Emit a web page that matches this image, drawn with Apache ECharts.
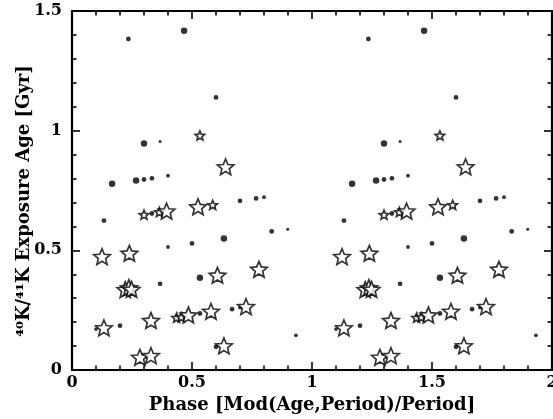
<!DOCTYPE html>
<html>
<head>
<meta charset="utf-8">
<title>Exposure age vs phase</title>
<script src="https://cdn.jsdelivr.net/npm/echarts@6/dist/echarts.min.js"></script>
<style>
  html, body { margin: 0; padding: 0; background: #fff; }
  #chart { width: 553px; height: 419px; }
</style>
</head>
<body>
<div id="chart"></div>
<script>
// Iron meteorites: phase within the period vs 40K/41K exposure age (Gyr).
// Filled circles: one group of samples; open stars: the other group.
const dotPhase = [0.235, 0.467, 0.600, 0.300, 0.367, 0.167, 0.267, 0.300, 0.333, 0.400,
                  0.133, 0.333, 0.400, 0.500, 0.700, 0.767, 0.800, 0.832, 0.899, 0.633,
                  0.367, 0.100, 0.200, 0.533, 0.533, 0.667, 0.700, 0.600, 0.933];
const dotAge   = [1.383, 1.418, 1.139, 0.946, 0.955, 0.778, 0.792, 0.796, 0.801, 0.812,
                  0.624, 0.654, 0.514, 0.529, 0.707, 0.717, 0.722, 0.579, 0.588, 0.549,
                  0.360, 0.171, 0.185, 0.385, 0.236, 0.254, 0.261, 0.097, 0.145];
// relative magnitude class of each circle (1 = smallest, 4 = largest)
const dotRank  = [3, 4, 3, 4, 1, 4, 4, 3, 3, 2,
                  3, 3, 2, 3, 3, 3, 2, 3, 1, 4,
                  3, 2, 3, 4, 3, 3, 2, 3, 2];

const starPhase = [0.533, 0.640, 0.300, 0.364, 0.394, 0.525, 0.586, 0.125, 0.239, 0.222,
                   0.237, 0.248, 0.606, 0.779, 0.133, 0.329, 0.436, 0.455, 0.485, 0.579,
                   0.725, 0.633, 0.283, 0.329];
const starAge   = [0.980, 0.849, 0.649, 0.660, 0.664, 0.682, 0.690, 0.474, 0.488, 0.336,
                   0.344, 0.337, 0.396, 0.421, 0.176, 0.207, 0.219, 0.221, 0.230, 0.245,
                   0.265, 0.101, 0.053, 0.060];
// relative magnitude class of each star (1 = small, 2 = large)
const starRank  = [1, 2, 1, 1, 2, 2, 1, 2, 2, 2,
                   2, 2, 2, 2, 2, 2, 1, 1, 2, 2,
                   2, 2, 2, 2];

const xTickLabels = ['0', '0.5', '1', '1.5', '2'];
const yTickLabels = ['0', '0.5', '1', '1.5'];
const xTitle = 'Phase [Mod(Age,Period)/Period]';
const yTitle = '\u2074\u2070K/\u2074\u00B9K Exposure Age [Gyr]';

// Each phase is shown twice: once in [0,1) and once shifted by a full cycle.
function twoCycles(phases, ages, ranks) {
  const out = [];
  for (let c = 0; c < 2; c++) {
    for (let i = 0; i < phases.length; i++) {
      out.push([phases[i] + c, ages[i], ranks[i]]);
    }
  }
  return out;
}

// Five-pointed star outline as an SVG path
function starPath(inner) {
  const pts = [];
  for (let k = 0; k < 10; k++) {
    const r = k % 2 === 0 ? 1 : inner;
    const a = -Math.PI / 2 + k * Math.PI / 5;
    pts.push((r * Math.cos(a)).toFixed(4) + ',' + (r * Math.sin(a)).toFixed(4));
  }
  return 'path://M' + pts.join('L') + 'Z';
}

const FONT = 'DejaVu Serif';
const dotSizes = { 1: 3, 2: 3.8, 3: 4.8, 4: 6.5 };
const starSizes = { 1: 9.5, 2: 16.5 };

const tickFmt = (labels, step) => (v) => {
  const idx = Math.round(v / step);
  return labels[idx] !== undefined ? labels[idx] : '';
};

const frameLine = { show: true, onZero: false, lineStyle: { color: '#000', width: 2.2 } };
const majorTick = { show: true, inside: true, length: 8, lineStyle: { color: '#000', width: 1.6 } };
const minorTick = { show: true, splitNumber: 5, length: 4.5, lineStyle: { color: '#000', width: 1.6 } };

function xAxisCfg(pos, labels) {
  return {
    type: 'value', position: pos, min: 0, max: 2, interval: 0.5,
    axisLine: frameLine, axisTick: majorTick, minorTick: minorTick,
    splitLine: { show: false }, minorSplitLine: { show: false },
    axisLabel: labels ? {
      show: true, margin: 5, color: '#000', fontFamily: FONT, fontSize: 16, fontWeight: 'bold',
      formatter: tickFmt(xTickLabels, 0.5), showMinLabel: true, showMaxLabel: true,
      hideOverlap: false
    } : { show: false },
    name: labels ? xTitle : '',
    nameLocation: 'middle', nameGap: 22,
    nameTextStyle: { color: '#000', fontFamily: FONT, fontSize: 18, fontWeight: 'bold' }
  };
}

function yAxisCfg(pos, labels) {
  return {
    type: 'value', position: pos, min: 0, max: 1.5, interval: 0.5,
    axisLine: frameLine, axisTick: majorTick, minorTick: minorTick,
    splitLine: { show: false }, minorSplitLine: { show: false },
    axisLabel: labels ? {
      show: true, margin: 10, color: '#000', fontFamily: FONT, fontSize: 16, fontWeight: 'bold',
      formatter: tickFmt(yTickLabels, 0.5), showMinLabel: true, showMaxLabel: true
    } : { show: false }
  };
}

const chart = echarts.init(document.getElementById('chart'), null, { renderer: 'canvas' });

chart.setOption({
  animation: false,
  backgroundColor: '#fff',
  grid: { left: 72, right: 1, top: 11, bottom: 49, containLabel: false, outerBoundsMode: 'none' },
  xAxis: [xAxisCfg('bottom', true), xAxisCfg('top', false)],
  yAxis: [yAxisCfg('left', true), yAxisCfg('right', false)],
  graphic: [{
    type: 'text',
    x: 24, y: 201,
    rotation: Math.PI / 2,
    style: {
      text: yTitle, x: 0, y: 0, align: 'center', verticalAlign: 'middle',
      fill: '#000', font: 'bold 18px "' + FONT + '"'
    }
  }],
  series: [
    {
      name: 'circles',
      type: 'scatter',
      xAxisIndex: 0, yAxisIndex: 0,
      symbol: 'circle',
      symbolSize: (d) => dotSizes[d[2]],
      itemStyle: { color: '#000' },
      data: twoCycles(dotPhase, dotAge, dotRank),
      z: 2
    },
    {
      name: 'stars',
      type: 'scatter',
      xAxisIndex: 0, yAxisIndex: 0,
      symbol: starPath(0.45),
      symbolKeepAspect: true,
      symbolSize: (d) => starSizes[d[2]],
      itemStyle: { color: '#fff', borderColor: '#000', borderWidth: 1.7 },
      data: twoCycles(starPhase, starAge, starRank),
      z: 3
    }
  ]
});
</script>
</body>
</html>
